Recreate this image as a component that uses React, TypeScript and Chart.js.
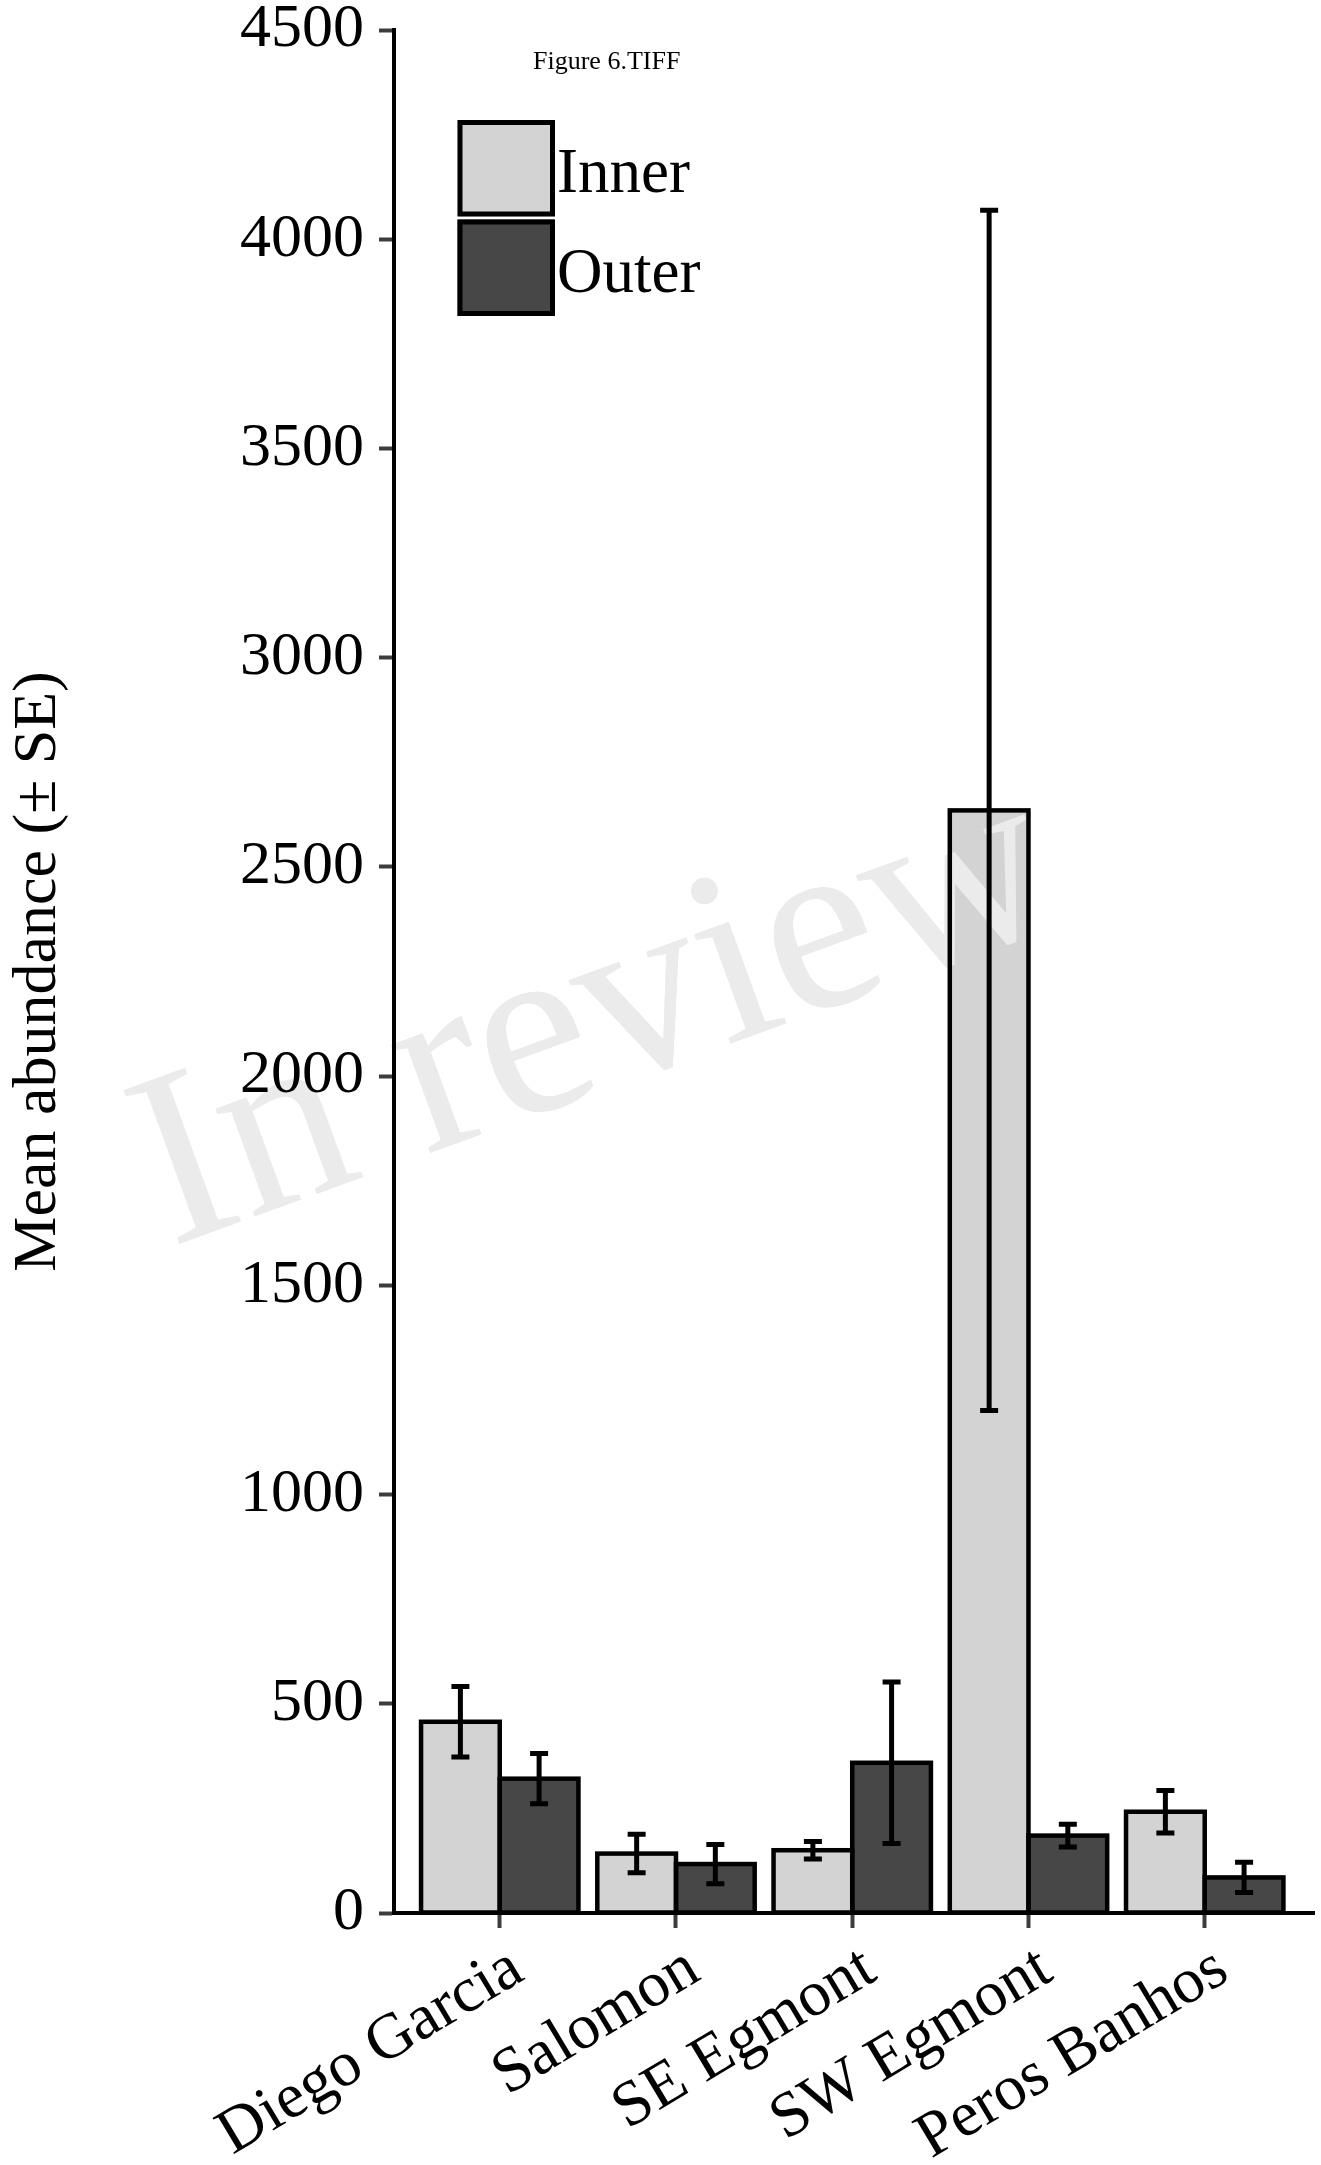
import React, { useEffect, useRef } from 'react';
import { Chart, registerables } from 'chart.js';

Chart.register(...registerables);

// ---- data ----
const categories = ['Diego Garcia', 'Salomon', 'SE Egmont', 'SW Egmont', 'Peros Banhos'];
const seriesLabels = ['Inner', 'Outer'];
const innerMeans = [457, 142, 150, 2635, 242];
const innerSE = [84, 46, 21, 1434, 51];
const outerMeans = [321, 117, 359, 185, 85];
const outerSE = [60, 47, 193, 27, 36];
const yMin = 0;
const yMax = 4500;
const yStep = 500;
const yTitle = 'Mean abundance (\u00B1 SE)';
const figureLabel = 'Figure 6.TIFF';
const watermarkText = 'In review';

const FAMILY = '"Liberation Serif", "Times New Roman", Times, serif';
const INNER_COLOR = '#d3d3d3';
const OUTER_COLOR = '#474747';

function drawWatermark(ctx: CanvasRenderingContext2D) {
  ctx.save();
  ctx.translate(171, 1247);
  ctx.rotate((-20 * Math.PI) / 180);
  ctx.font = `250px ${FAMILY}`;
  ctx.fillStyle = '#ebebeb';
  ctx.textBaseline = 'alphabetic';
  ctx.textAlign = 'left';
  ctx.fillText(watermarkText, 0, 0);
  ctx.restore();
}

const watermarkPlugin = {
  id: 'watermarkBack',
  beforeDraw(chart: any) {
    drawWatermark(chart.ctx);
  },
};

const outlineAndErrorPlugin = {
  id: 'outlineErrors',
  afterDatasetsDraw(chart: any) {
    const ctx = chart.ctx;
    const yScale = chart.scales.y;
    const area = chart.chartArea;
    // watermark over the bar fills (inside the plot only), under outlines and error bars
    ctx.save();
    ctx.beginPath();
    ctx.rect(area.left + 2.5, area.top - 40, area.right - area.left, area.bottom - area.top + 38);
    ctx.clip();
    drawWatermark(ctx);
    ctx.restore();

    ctx.save();
    chart.data.datasets.forEach((ds: any, di: number) => {
      const meta = chart.getDatasetMeta(di);
      meta.data.forEach((el: any) => {
        const { x, y, base, width } = el.getProps(['x', 'y', 'base', 'width'], true);
        ctx.strokeStyle = '#000';
        ctx.lineWidth = 4.5;
        ctx.lineJoin = 'miter';
        ctx.strokeRect(x - width / 2, y, width, base - y);
      });
    });
    chart.data.datasets.forEach((ds: any, di: number) => {
      const meta = chart.getDatasetMeta(di);
      meta.data.forEach((el: any, i: number) => {
        const m = ds.data[i].y;
        const e = ds.errors[i];
        const x = el.x;
        const yt = yScale.getPixelForValue(m + e);
        const yb = yScale.getPixelForValue(m - e);
        ctx.strokeStyle = '#000';
        ctx.lineCap = 'butt';
        ctx.lineWidth = 5;
        ctx.beginPath();
        ctx.moveTo(x, yt);
        ctx.lineTo(x, yb);
        ctx.stroke();
        ctx.beginPath();
        ctx.moveTo(x - 9, yt);
        ctx.lineTo(x + 9, yt);
        ctx.moveTo(x - 9, yb);
        ctx.lineTo(x + 9, yb);
        ctx.stroke();
      });
    });
    ctx.restore();
  },
};

const legendPlugin = {
  id: 'customLegend',
  afterDraw(chart: any) {
    const ctx = chart.ctx;
    ctx.save();
    ctx.font = `26px ${FAMILY}`;
    ctx.fillStyle = '#000';
    ctx.textAlign = 'left';
    ctx.textBaseline = 'alphabetic';
    ctx.fillText(figureLabel, 533, 69);
    const boxX = 457.5;
    const boxW = 97.5;
    const boxH = 96.5;
    const tops = [120, 219.5];
    chart.data.datasets.forEach((ds: any, i: number) => {
      const top = tops[i];
      ctx.fillStyle = ds.backgroundColor;
      ctx.fillRect(boxX, top, boxW, boxH);
      ctx.strokeStyle = '#000';
      ctx.lineWidth = 5;
      ctx.strokeRect(boxX + 2.5, top + 2.5, boxW - 5, boxH - 5);
      ctx.fillStyle = '#000';
      ctx.font = `63px ${FAMILY}`;
      ctx.fillText(ds.label, 557, top + 72);
    });
    ctx.restore();
  },
};

export default function App() {
  const ref = useRef<HTMLCanvasElement>(null);

  useEffect(() => {
    if (!ref.current) return;
    document.body.style.margin = '0';
    const gridOpts = {
      display: true,
      drawOnChartArea: false,
      drawTicks: true,
      tickLength: 15,
      tickWidth: 4,
      tickColor: '#3c3c3c',
      offset: false,
    };
    const borderOpts = { display: true, color: '#000', width: 4 };
    const chart = new Chart(ref.current, {
      type: 'bar',
      data: {
        datasets: [
          {
            label: seriesLabels[0],
            data: innerMeans.map((v, i) => ({ x: i, y: v })),
            errors: innerSE,
            backgroundColor: INNER_COLOR,
            borderWidth: 0,
          } as any,
          {
            label: seriesLabels[1],
            data: outerMeans.map((v, i) => ({ x: i, y: v })),
            errors: outerSE,
            backgroundColor: OUTER_COLOR,
            borderWidth: 0,
          } as any,
        ],
      },
      options: {
        animation: false,
        responsive: false,
        devicePixelRatio: 1,
        layout: { padding: { left: 0, top: 30, right: 7, bottom: 0 } },
        datasets: { bar: { categoryPercentage: 0.893, barPercentage: 1 } },
        plugins: { legend: { display: false }, tooltip: { enabled: false } },
        scales: {
          x: {
            type: 'linear',
            min: -0.6,
            max: 4.62,
            bounds: 'data',
            offset: false,
            afterBuildTicks: (s: any) => {
              s.ticks = categories.map((_, i) => ({ value: i }));
            },
            afterFit: (s: any) => {
              s.height = 252;
              s.paddingLeft = 0;
              s.paddingRight = 0;
            },
            grid: gridOpts,
            border: borderOpts,
            ticks: {
              autoSkip: false,
              maxRotation: 31,
              minRotation: 31,
              labelOffset: 18,
              padding: 3,
              color: '#000',
              font: { family: FAMILY, size: 64 },
              callback: (v: any) => categories[Math.round(v)] ?? '',
            },
          } as any,
          y: {
            min: yMin,
            max: yMax,
            afterFit: (s: any) => {
              s.width = 394;
              s.paddingTop = 0;
              s.paddingBottom = 0;
            },
            grid: gridOpts,
            border: borderOpts,
            ticks: {
              stepSize: yStep,
              padding: 15,
              color: '#000',
              font: { family: FAMILY, size: 62, lineHeight: 1 },
              callback: (v: any) => String(v),
            },
            title: {
              display: true,
              text: yTitle,
              color: '#000',
              font: { family: FAMILY, size: 62 },
              padding: { top: 2, bottom: 0 },
            },
          } as any,
        },
      },
      plugins: [watermarkPlugin, outlineAndErrorPlugin, legendPlugin],
    } as any);
    return () => chart.destroy();
  }, []);

  return (
    <div style={{ position: 'fixed', left: 0, top: 0, width: 1321, height: 2165, background: '#fff' }}>
      <canvas ref={ref} width={1321} height={2165} style={{ display: 'block', width: 1321, height: 2165 }} />
    </div>
  );
}
